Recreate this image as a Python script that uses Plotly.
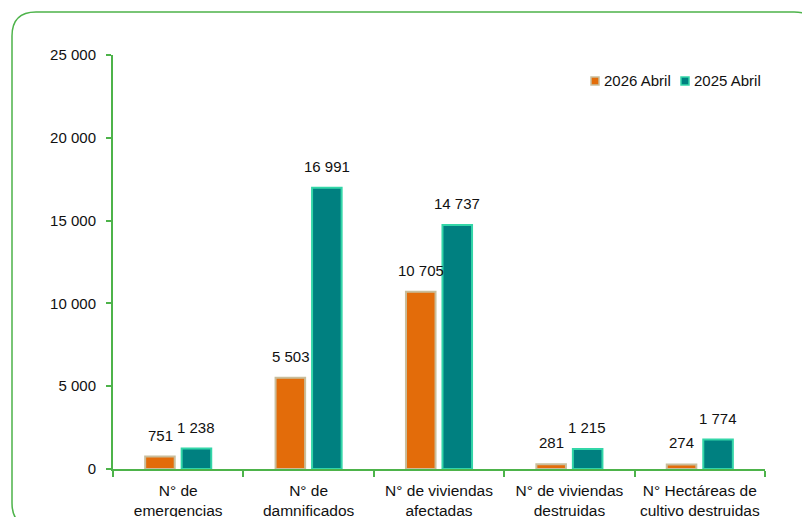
import plotly.graph_objects as go

categories = ["N° de<br>emergencias", "N° de<br>damnificados", "N° de viviendas<br>afectadas",
              "N° de viviendas<br>destruidas", "N° Hectáreas de<br>cultivo destruidas"]
series_names = ["2026 Abril", "2025 Abril"]
values_2026 = [751, 5503, 10705, 281, 274]
values_2025 = [1238, 16991, 14737, 1215, 1774]
y_ticks = [0, 5000, 10000, 15000, 20000, 25000]

FONT = "Liberation Sans Narrow, Arial Narrow, Liberation Sans, Arial, sans-serif"
GREEN = "#4DB34A"
FILLS = ["#E36C0A", "#008080"]
EDGES = ["#C9BE9C", "#33D6A8"]

OFF = 8  # page body margin offset
W, H = 810 - OFF, 517 - OFF
L, R, T, B = 113 - OFF, 45, 55 - OFF, 48
pw, ph = W - L - R, H - T - B

def fmt(v):
    return f"{v:,}".replace(",", " ")

fig = go.Figure()
for name, vals, fc, ec in zip(series_names, (values_2026, values_2025), FILLS, EDGES):
    fig.add_trace(go.Bar(name=name, x=categories, y=vals, showlegend=False,
                         marker=dict(color=fc, line=dict(color=ec, width=2))))

# value labels
for vals, shift in ((values_2026, -18), (values_2025, 18)):
    for c, v in zip(categories, vals):
        fig.add_annotation(x=c, y=v, text=fmt(v), showarrow=False, xshift=shift,
                           yanchor="bottom", yshift=11,
                           font=dict(family=FONT, size=15, color="#111"))

# page pixel coords -> paper
def px(X):
    return (X - OFF - L) / pw
def py(Y):
    return (H - B - (Y - OFF)) / ph

# manual legend
for i, (name, fc, ec) in enumerate(zip(series_names, FILLS, EDGES)):
    sx = 591 + i * 90
    fig.add_shape(type="rect", xref="paper", yref="paper",
                  x0=px(sx), x1=px(sx + 8), y0=py(85), y1=py(77),
                  fillcolor=fc, line=dict(color=ec, width=1.5))
    fig.add_annotation(xref="paper", yref="paper", x=px(sx + 11), y=py(81),
                       xanchor="left", yanchor="middle", showarrow=False, text=name,
                       font=dict(family=FONT, size=15, color="#111"))

# rounded frame
fl, fr, ft, fb, rad = 12, 818, 12, 527, 24
path = (f"M {px(fl)},{py(fb-rad)} "
        f"L {px(fl)},{py(ft+rad)} "
        f"Q {px(fl)},{py(ft)} {px(fl+rad)},{py(ft)} "
        f"L {px(fr-rad)},{py(ft)} "
        f"Q {px(fr)},{py(ft)} {px(fr)},{py(ft+rad)} "
        f"L {px(fr)},{py(fb)}")
path_bl = (f"M {px(fl)},{py(fb-rad)} "
           f"Q {px(fl)},{py(fb)} {px(fl+rad)},{py(fb)}")
for p in (path, path_bl):
    fig.add_shape(type="path", path=p, xref="paper", yref="paper",
                  line=dict(color=GREEN, width=1.5), layer="below")

fig.update_layout(
    width=W, height=H,
    margin=dict(l=L, r=R, t=T, b=B),
    paper_bgcolor="white", plot_bgcolor="white",
    barmode="group", bargap=0.44, bargroupgap=0.19,
    separators=". ",
    font=dict(family=FONT, size=15, color="#111"),
    showlegend=False,
    xaxis=dict(showline=True, linecolor=GREEN, linewidth=2, ticks="outside",
               tickson="boundaries", tickcolor=GREEN, ticklen=6, tickwidth=2,
               tickangle=0, automargin=False, showgrid=False, ticklabelstandoff=6,
               tickfont=dict(family=FONT, size=15.5, color="#111")),
    yaxis=dict(range=[0, 25000], tickvals=y_ticks, ticktext=[fmt(v) for v in y_ticks],
               showline=True, linecolor=GREEN, linewidth=2, ticks="outside",
               tickcolor=GREEN, ticklen=5, tickwidth=2, showgrid=False, zeroline=False,
               automargin=False, ticklabelstandoff=7,
               tickfont=dict(family=FONT, size=15, color="#111")),
)

fig.write_html("out.html")
